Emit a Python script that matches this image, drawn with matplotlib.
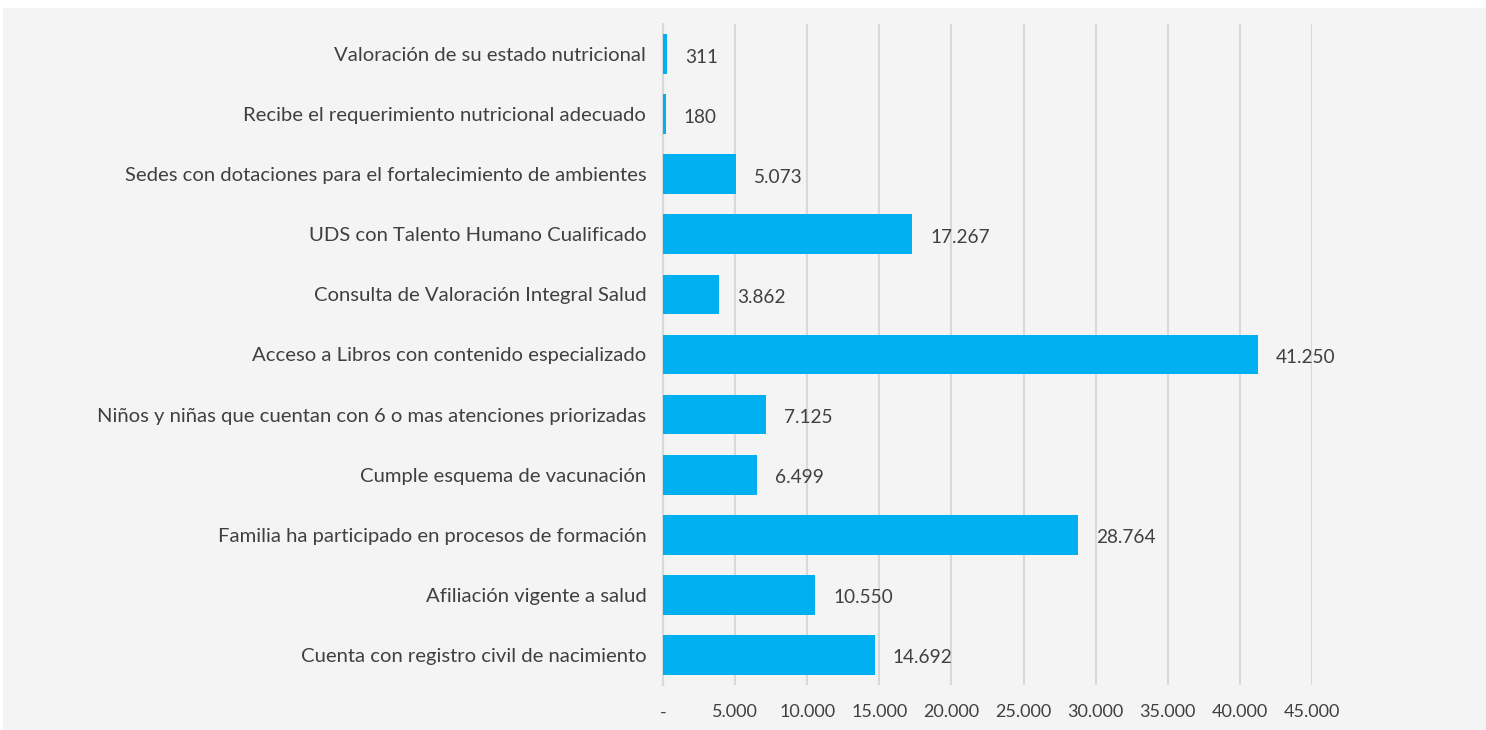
import matplotlib.pyplot as plt
from matplotlib.patches import Rectangle
from matplotlib.ticker import FuncFormatter

# datos del gráfico (de arriba hacia abajo)
categorias = [
    "Valoración de su estado nutricional",
    "Recibe el requerimiento nutricional adecuado",
    "Sedes con dotaciones para el fortalecimiento de ambientes",
    "UDS con Talento Humano Cualificado",
    "Consulta de Valoración Integral Salud",
    "Acceso a Libros con contenido especializado",
    "Niños y niñas que cuentan con 6 o mas atenciones priorizadas",
    "Cumple esquema de vacunación",
    "Familia ha participado en procesos de formación",
    "Afiliación vigente a salud",
    "Cuenta con registro civil de nacimiento",
]
valores = [311, 180, 5073, 17267, 3862, 41250, 7125, 6499, 28764, 10550, 14692]
ticks_x = [0, 5000, 10000, 15000, 20000, 25000, 30000, 35000, 40000, 45000]

W, H = 1486, 730
plt.rcParams['font.family'] = ['Lato', 'DejaVu Sans']

fig = plt.figure(figsize=(W / 100, H / 100), dpi=100)
fig.patch.set_facecolor('white')
# panel gris de fondo
fig.patches.append(Rectangle((3 / W, 0), 1, 1 - 8 / H, transform=fig.transFigure,
                             facecolor='#f4f4f4', edgecolor='none', zorder=-1))

ax = fig.add_axes([663 / W, (H - 685) / H, (1312 - 663) / W, (685 - 24) / H])
ax.set_facecolor('none')

def miles(v):
    return f"{v:,.0f}".replace(",", ".")

pos = list(range(len(categorias)))
ax.barh(pos, valores, height=0.66, color='#00b0f0', zorder=3)
for p, v in zip(pos, valores):
    ax.text(v + 1250, p + 0.05, miles(v), va='center', ha='left',
            fontsize=13.7, color='#404040')

ax.set_ylim(len(categorias) - 0.5, -0.5)
ax.set_xlim(0, 45000)
ax.set_yticks(pos)
ax.set_yticklabels(categorias, fontsize=14.6, color='#404040')
ax.set_xticks(ticks_x)
ax.xaxis.set_major_formatter(FuncFormatter(lambda v, _: '-' if v == 0 else miles(v)))
ax.tick_params(axis='x', labelsize=13, colors='#404040', length=0, pad=14)
ax.tick_params(axis='y', length=0, pad=12)
ax.grid(axis='x', color='#d9d9d9', linewidth=1.5, zorder=0)
for s in ['top', 'right', 'bottom']:
    ax.spines[s].set_visible(False)
ax.spines['left'].set_color('#d9d9d9')
ax.spines['left'].set_linewidth(1.5)

fig.savefig('out.png', dpi=100, facecolor=fig.get_facecolor())
